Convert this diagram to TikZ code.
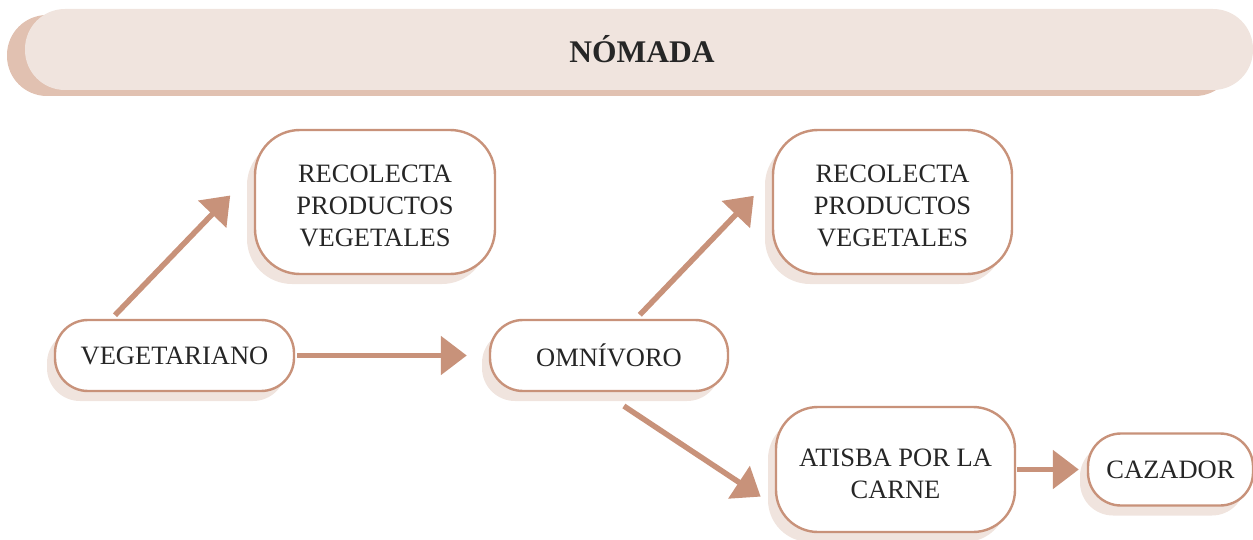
\documentclass[tikz,border=0pt]{standalone}
\usepackage{fontspec}
\setmainfont{Liberation Serif}
\usetikzlibrary{arrows.meta,shadows,calc}

\definecolor{cafe}{RGB}{200,146,122}
\definecolor{crema}{RGB}{240,228,222}
\definecolor{arcilla}{RGB}{225,193,177}

\newcommand{\arriba}{\rule{0pt}{25pt}}

\tikzset{every picture/.style={line width=0.75pt},
  caja/.style={draw=cafe, line width=2.4pt, fill=white, rounded corners=#1, inner sep=0pt, align=center,
    font=\fontsize{26.5}{32}\selectfont, text=black!85, text depth=0pt,
    drop shadow={shadow xshift=-8pt, shadow yshift=-10pt, fill=crema, opacity=1}},
  caja/.default=33pt,
  barra/.style={fill=crema, rounded corners=40pt, inner sep=0pt, minimum width=1228pt, minimum height=81pt,
    font=\fontsize{31.5}{36}\selectfont\bfseries, text=black!85,
    drop shadow={shadow xshift=-18pt, shadow yshift=-6pt, fill=arcilla, opacity=1}},
  flecha/.style={draw=cafe, line width=5.5pt, -{Triangle[length=26pt,width=38pt]}}
}

\begin{document}
\begin{tikzpicture}[x=1pt,y=1pt,yscale=-1,xscale=1]
\useasboundingbox (0,0) rectangle (1253,540);

%Title bar
\node [barra] (titulo) at (639,49.5) {\hspace*{6pt}NÓMADA};

%Boxes
\node [caja, minimum width=239pt, minimum height=71pt] (veg) at (174.5,355.5) {VEGETARIANO};
\node [caja, minimum width=238pt, minimum height=71pt] (omn) at (609,355.5) {OMNÍVORO};
\node [caja=45pt, minimum width=240pt, minimum height=144pt] (rec1) at (375,202) {\arriba RECOLECTA\\PRODUCTOS\\VEGETALES};
\node [caja=45pt, minimum width=239pt, minimum height=144pt] (rec2) at (892.5,202) {\arriba RECOLECTA\\PRODUCTOS\\VEGETALES};
\node [caja=42pt, minimum width=239pt, minimum height=125pt] (atis) at (895.5,469.5) {\arriba ATISBA POR LA\\CARNE};
\node [caja, minimum width=165pt, minimum height=72pt] (caz) at (1170.5,469.5) {CAZADOR};

%Arrows
\draw [flecha, shorten <=5pt, shorten >=34pt] ($(veg.north)+(-63,0)$) -- ($(rec1.west)+(0,-31)$);
\draw [flecha, shorten <=2pt, shorten >=22pt] (veg) -- (omn);
\draw [flecha, shorten <=5.5pt, shorten >=26pt] ($(omn.north)+(27,0)$) -- ($(rec2.west)+(0,-25)$);
\draw [flecha, shorten <=25pt, shorten >=17pt] ($(omn.south)+(-6,0)$) -- ($(atis.west)+(0,36.5)$);
\draw [flecha, shorten <=1pt, shorten >=8pt] (atis) -- (caz);

\end{tikzpicture}
\end{document}
